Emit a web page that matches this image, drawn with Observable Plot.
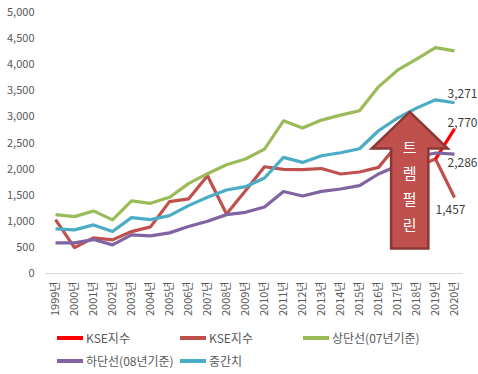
<!DOCTYPE html>
<html><head><meta charset="utf-8">
<script src="https://cdn.jsdelivr.net/npm/d3@7"></script>
<script src="https://cdn.jsdelivr.net/npm/@observablehq/plot@0.6"></script>
<style>
body{margin:0;background:#fff;font-family:"Noto Sans CJK KR","Noto Sans",sans-serif;}
#wrap{width:478px;height:374px;position:relative;}
.legend{display:flex;flex-wrap:wrap;padding-left:57px;width:421px;font-size:12px;color:#595959;margin-top:4px}
.item{width:123px;height:23px;display:flex;align-items:center;white-space:nowrap}
.sw{width:26px;height:4px;margin-right:3px;flex:none}
</style></head>
<body><div id="wrap"></div>
<script>
const years = ["1999","2000","2001","2002","2003","2004","2005","2006","2007","2008","2009","2010","2011","2012","2013","2014","2015","2016","2017","2018","2019","2020"];
const kseRecent = [null,null,null,null,null,null,null,null,null,null,null,null,null,null,null,null,null,null,null,null,2193,2770];
const kse = [1033,497,683,644,803,893,1377,1428,1874,1141,1585,2045,1995,1989,2012,1906,1945,2033,2470,2050,2193,1457];
const upper = [1128,1090,1199,1027,1390,1344,1459,1721,1912,2084,2193,2384,2925,2786,2939,3034,3117,3576,3895,4105,4327,4264];
const lower = [587,587,650,549,740,721,778,899,1000,1128,1172,1275,1571,1485,1574,1619,1683,1906,2065,2231,2308,2286];
const mid = [855,835,931,803,1071,1033,1109,1300,1459,1600,1663,1830,2224,2128,2256,2314,2390,2734,2977,3168,3327,3271];
const seriesNames = ["KSE지수","KSE지수","상단선(07년기준)","하단선(08년기준)","중간치"];
const seriesColors = ["#FF0000","#C0504D","#9BBB59","#8064A2","#4BACC6"];
const yTicks = [0,500,1000,1500,2000,2500,3000,3500,4000,4500,5000];
const arrowText = ["트","렘","펄","린"];

const seriesData = [kseRecent, kse, upper, lower, mid];
const drawOrder = [1,0,2,3,4];
const rows = [];
drawOrder.forEach(s => years.forEach((yr,i) => rows.push({key:s, year:yr, value:seriesData[s][i]})));

const endLabels = [
  {year:"2020", value:mid[21], anchor:"start", dx:-7, dy:-9},
  {year:"2020", value:kseRecent[21], anchor:"start", dx:-7, dy:-6},
  {year:"2020", value:lower[21], anchor:"start", dx:-7, dy:9},
  {year:"2020", value:kse[21], anchor:"middle", dx:-4, dy:13}
];
const fmt = d3.format(",");

const plot = Plot.plot({
  width:478, height:322,
  marginTop:12, marginBottom:49, marginLeft:45, marginRight:15,
  style:{fontFamily:'"Noto Sans CJK KR","Noto Sans",sans-serif', fontSize:"11px", color:"#595959", background:"#fff"},
  x:{type:"point", domain:years, padding:0.44, label:null, tickSize:0, tickPadding:8, tickRotate:-90, tickFormat:d=>d+"년"},
  y:{domain:[0,5000], ticks:yTicks, tickFormat:fmt, label:null, tickSize:0, tickPadding:11},
  marks:[
    Plot.ruleY([0],{stroke:"#D9D9D9", strokeWidth:1}),
    ...drawOrder.map(s => Plot.line(rows.filter(r=>r.key===s && r.value!=null), {x:"year", y:"value", stroke:seriesColors[s], strokeWidth:3.2, strokeLinejoin:"round", strokeLinecap:"butt"})),
    ...endLabels.map(l => Plot.text([l], {x:"year", y:"value", text:d=>fmt(d.value), textAnchor:l.anchor, dx:l.dx, dy:l.dy, fill:"#404040", fontSize:12}))
  ]
});
document.getElementById("wrap").appendChild(plot);

// arrow annotation in data units
const xs = plot.scale("x"), ys = plot.scale("y");
const step = xs.apply("2000") - xs.apply("1999");
const arrow = {center:18.67, headHalf:2.0, shaftHalf:0.98, tip:3085, neck:2385, base:470};
const cx = xs.apply("1999") + arrow.center*step;
const hh = arrow.headHalf*step, sh = arrow.shaftHalf*step;
const yt = ys.apply(arrow.tip), yn = ys.apply(arrow.neck), yb = ys.apply(arrow.base);
const svg = d3.select(plot);
const g = svg.append("g");
g.append("polygon")
  .attr("points", [[cx,yt],[cx+hh,yn],[cx+sh,yn],[cx+sh,yb],[cx-sh,yb],[cx-sh,yn],[cx-hh,yn]].map(p=>p.join(",")).join(" "))
  .attr("fill","#C0504D").attr("stroke","#8C3836").attr("stroke-width",2.5).attr("stroke-linejoin","miter");
arrowText.forEach((c,i) => {
  g.append("text").attr("x",cx).attr("y",yn - 1 + i*26).attr("dy","0.35em")
   .attr("text-anchor","middle").attr("fill","#fff").attr("font-size",15)
   .attr("font-family",'"Noto Sans CJK KR",sans-serif').text(c);
});

// legend
const leg = document.createElement("div");
leg.className = "legend";
[0,1,2,3,4].forEach(s => {
  const it = document.createElement("div"); it.className="item";
  const sw = document.createElement("span"); sw.className="sw"; sw.style.background = seriesColors[s];
  const t = document.createElement("span"); t.textContent = seriesNames[s];
  it.appendChild(sw); it.appendChild(t); leg.appendChild(it);
});
document.getElementById("wrap").appendChild(leg);
</script></body></html>
